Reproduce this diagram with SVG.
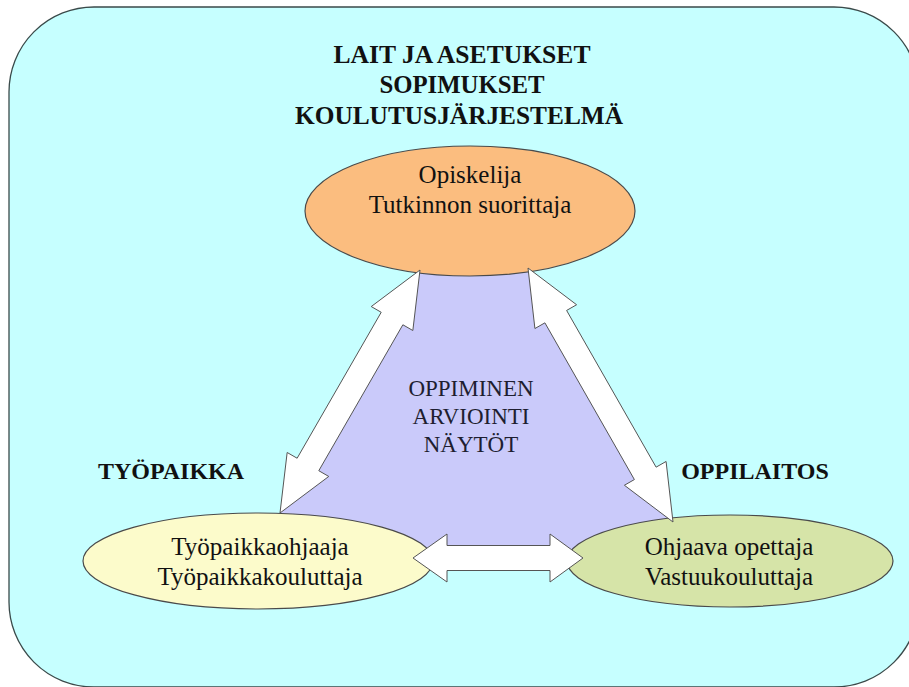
<svg xmlns="http://www.w3.org/2000/svg" width="909" height="687" viewBox="0 0 909 687">
<style>
text{font-family:'Liberation Serif','DejaVu Serif',serif;text-anchor:middle;fill:#111}
.title{font-size:26px;font-weight:bold}
.side{font-size:24px;font-weight:bold}
.lbl{font-size:25px}
.mid{font-size:23px;fill:#1e1e30}
.node{stroke:#4a4a4a;stroke-width:1.2}
.arrow{fill:#ffffff;stroke:#555555;stroke-width:1;stroke-linejoin:miter}
</style>
<rect id="frame" x="9" y="7" width="910" height="680" rx="85" ry="85" fill="#C6FFFF" stroke="#3a4a4a" stroke-width="1.3"/>
<g id="header" font-family="Liberation Serif, serif">
<text class="title" x="462" y="63" textLength="257" lengthAdjust="spacingAndGlyphs">LAIT JA ASETUKSET</text>
<text class="title" x="462" y="93" textLength="165" lengthAdjust="spacingAndGlyphs">SOPIMUKSET</text>
<text class="title" x="459" y="124" textLength="328" lengthAdjust="spacingAndGlyphs">KOULUTUSJÄRJESTELMÄ</text>
</g>
<g id="center-area">
<polygon points="420,265 528,265 673,522 673,560 280,560 280,513" fill="#CACAFA"/>
<text class="mid" x="471" y="396">OPPIMINEN</text>
<text class="mid" x="471" y="424">ARVIOINTI</text>
<text class="mid" x="471" y="452">NÄYTÖT</text>
</g>
<g id="node-opiskelija">
<ellipse class="node" cx="470" cy="211" rx="165" ry="65" fill="#FBBD7F"/>
<text class="lbl" x="470" y="183">Opiskelija</text>
<text class="lbl" x="470" y="213">Tutkinnon suorittaja</text>
</g>
<g id="node-tyopaikka">
<text class="side" x="171" y="479">TYÖPAIKKA</text>
<ellipse class="node" cx="258" cy="561" rx="175" ry="48" fill="#FCFBCB"/>
<text class="lbl" x="260" y="555">Työpaikkaohjaaja</text>
<text class="lbl" x="260" y="585">Työpaikkakouluttaja</text>
</g>
<g id="node-oppilaitos">
<text class="side" x="755" y="479">OPPILAITOS</text>
<ellipse class="node" cx="730" cy="561" rx="163" ry="46" fill="#D6E4A8"/>
<text class="lbl" x="729" y="555">Ohjaava opettaja</text>
<text class="lbl" x="729" y="585">Vastuukouluttaja</text>
</g>
<g id="connectors">
<polygon class="arrow" points="420,270 412.84,330.51 402.87,324.77 318.79,470.71 328.76,476.45 280,513 287.16,452.49 297.13,458.23 381.21,312.29 371.24,306.55"/>
<polygon class="arrow" points="528,268 576.6,304.74 566.62,310.44 656.1,467.16 666.08,461.46 673,522 624.4,485.26 634.38,479.56 544.9,322.84 534.92,328.54"/>
<polygon class="arrow" points="413,558 447,534 447,545.5 550,545.5 550,534 583,558 550,582 550,570.5 447,570.5 447,582"/>
</g>
</svg>
